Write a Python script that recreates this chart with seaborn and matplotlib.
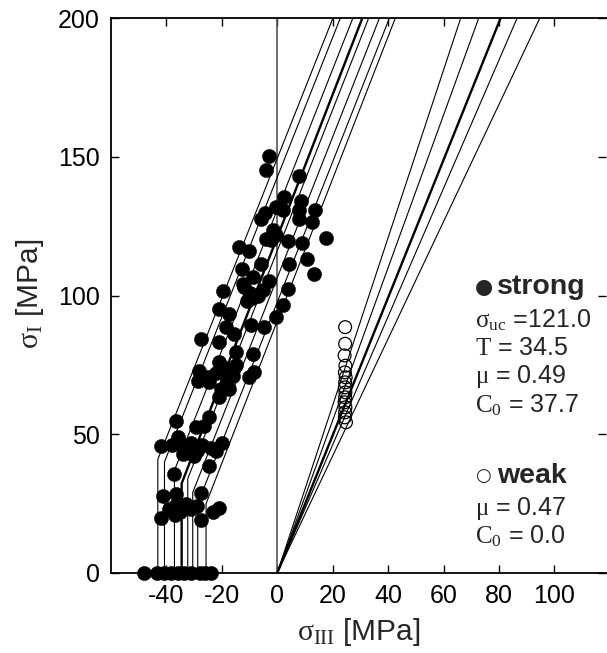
import numpy as np
import pandas as pd
import matplotlib
matplotlib.use("Agg")
import matplotlib.pyplot as plt
import seaborn as sns

# ---------------- data ----------------
# strong samples (sigma_III, sigma_I) in MPa
strong_s3 = [-48, -43.5, -41, -38.5, -36, -33.5, -31, -28, -26, -24,
             -41.9, -39, -37, -35, -33, -31, -29, -27.5, -23.3, -20.9, -37, -41.3, -36.5, -27.5, -37.1, -24.5,
             -41.9, -38, -35, -33, -31, -29, -27, -24, -22, -20, -34, -30, -36,
             -36.5, -29.3, -24.5, -26.3,
             -28.1, -28.7, -24.5, -20.9, -17.3, -20.3, -22, -19, -16, -21, -18, -15, -25.1, -8.3, -10.1, -8.9, -14.9,
             -27.5, -20.9, -15.5, -18.5, -17.3, -20.9, -9.5, -4.7, -0.5, 1.9,
             -19.7, -12, -10, -7, -9, -5, -8.9, -12.5, -2.9, 3.7, -11,
             -12.7, -5.9, 4.3, 13.1, 10.7, -13.9, -10.1, -4.1, -2.3, -1.7, -0.5, 3.7, 9.1, 17.5,
             -5.9, -4.3, -0.5, 1.9, 2.5, 8.5, 7.9, 7.9, 13.7, 12.7, 7.9, -3.9, -2.9]
strong_s1 = [0, 0, 0, 0, 0, 0, 0, 0, 0, 0,
             20, 23, 24, 22, 25, 23, 24, 19, 22, 23.6, 21, 27.8, 28.4, 29, 35.6, 38.6,
             45.8, 46, 47, 45, 47, 44, 46, 45, 44, 47, 43, 42, 49,
             54.9, 52.5, 56.1, 53.1,
             72.9, 69.3, 68.7, 63.3, 66.3, 66.3, 72, 74, 71, 76, 70, 75, 70.5, 72.3, 70.5, 79, 79.5,
             84.4, 83.1, 86.2, 88.6, 93.4, 95.2, 89.2, 88.6, 92.2, 96.4,
             101.6, 103, 101, 100, 99, 102, 106.6, 104.2, 105.2, 102.2, 98,
             109.6, 111.4, 111.4, 107.8, 113.2, 117.4, 115.9, 120.5, 119.9, 123.7, 121.7, 119.5, 118.9, 120.7,
             127.7, 129.7, 131.9, 130.7, 135.5, 134, 130.7, 127.7, 130.7, 126.5, 143, 145.4, 150.2]

# weak samples
weak_s3 = [24.5, 24.5, 24.3, 24.6, 24.4, 24.7, 24.5, 24.4, 24.6, 24.5, 24.3, 24.6, 24.5, 24.4, 24.8]
weak_s1 = [88.6, 82.6, 78.4, 74.7, 72.3, 70.5, 68.7, 66.9, 65.1, 63.3, 61.5, 59.7, 57.9, 56.1, 54.3]

# strong failure envelopes: tension cut-off T, intercept sigma_uc, slope q
strong_T = [43.1, 40.7, 37.1, 34.5, 32.3, 30.5, 28.7, 25.7]
strong_A = [149.4, 142.6, 130.9, 121.0, 116.1, 106.4, 97.6, 90.8]
strong_q = [2.516, 2.52, 2.531, 2.5715, 2.542, 2.537, 2.529, 2.562]
strong_best = 3
# weak envelopes through the origin: slope q
weak_q = [3.02, 2.75, 2.4804, 2.31, 2.11]
weak_best = 2

strong_text = [r"$\mathrm{σ}_{\mathrm{uc}}$ =121.0", r"$\mathrm{T}$ = 34.5",
               r"$\mathrm{μ}$ = 0.49", r"$\mathrm{C}_{\mathrm{0}}$ = 37.7"]
weak_text = [r"$\mathrm{μ}$ = 0.47", r"$\mathrm{C}_{\mathrm{0}}$ = 0.0"]

xticks = [-40, -20, 0, 20, 40, 60, 80, 100]
yticks = [0, 50, 100, 150, 200]
xlim = (-60, 118.5)
ylim = (0, 200)

# ---------------- styling ----------------
sns.set_style("ticks")
plt.rcParams["font.family"] = ["Liberation Sans", "DejaVu Sans"]
plt.rcParams["axes.unicode_minus"] = False
plt.rcParams["mathtext.fontset"] = "custom"
plt.rcParams["mathtext.rm"] = "Liberation Serif"
plt.rcParams["mathtext.it"] = "Liberation Serif:italic"
plt.rcParams["mathtext.bf"] = "Liberation Serif:bold"

W, H = 607, 653
fig = plt.figure(figsize=(W / 100, H / 100), dpi=100)
ax = fig.add_axes([111 / W, (H - 573) / H, (605.6 - 111) / W, (573 - 18) / H])

# vertical line at sigma_III = 0
ax.axvline(0, color="#555555", lw=1.2, zorder=1)

# strong envelopes
for i, (T, A, q) in enumerate(zip(strong_T, strong_A, strong_q)):
    lw = 1.7 if i == strong_best else 0.8
    s3 = np.array([-T, -T, xlim[1]])
    s1 = np.array([0, A - q * T, A + q * xlim[1]])
    ax.plot(s3, s1, color="black", lw=lw, zorder=2, solid_joinstyle="round")

# weak envelopes
for i, q in enumerate(weak_q):
    lw = 1.7 if i == weak_best else 0.8
    s3 = np.array([0, xlim[1]])
    ax.plot(s3, q * s3, color="black", lw=lw, zorder=2)

df_s = pd.DataFrame({"s3": strong_s3, "s1": strong_s1})
df_w = pd.DataFrame({"s3": weak_s3, "s1": weak_s1})
sns.scatterplot(data=df_s, x="s3", y="s1", ax=ax, s=105, color="black",
                edgecolor="black", linewidth=0.3, zorder=5, clip_on=False)
sns.scatterplot(data=df_w, x="s3", y="s1", ax=ax, s=85, facecolor="none",
                edgecolor="black", linewidth=0.9, zorder=4, clip_on=False)

ax.set_xlim(*xlim)
ax.set_ylim(*ylim)
ax.set_xticks(xticks)
ax.set_yticks(yticks)
ax.set_xlabel("")
ax.set_ylabel("")
ax.tick_params(direction="in", length=6, width=1, labelsize=18, pad=8,
               top=True, right=True, colors="black")
for side in ["left", "top", "bottom"]:
    ax.spines[side].set_linewidth(1.3)
    ax.spines[side].set_color("black")
ax.spines["right"].set_visible(False)

fig.text(30 / W, 1 - 294 / H, r"$\mathrm{σ}_{\mathrm{I}}$ [MPa]", rotation=90,
         ha="center", va="center", fontsize=21.5)
fig.text(359 / W, 1 - 632 / H, r"$\mathrm{σ}_{\mathrm{III}}$ [MPa]",
         ha="center", va="center", fontsize=21.5)

# annotation block
x0 = 475 / W
fig.text(x0, 1 - 287 / H, "●", ha="left", va="center", fontsize=15,
         family=["DejaVu Sans"])
fig.text(497 / W, 1 - 287 / H, "strong", ha="left", va="center", fontsize=20.5,
         fontweight="bold")
for k, t in enumerate(strong_text):
    fig.text(x0, 1 - (320 + 28.5 * k) / H, t, ha="left", va="center", fontsize=18)
fig.text(x0, 1 - 476 / H, "○", ha="left", va="center", fontsize=13,
         family=["DejaVu Sans"])
fig.text(497 / W, 1 - 476 / H, "weak", ha="left", va="center", fontsize=20.5,
         fontweight="bold")
for k, t in enumerate(weak_text):
    fig.text(x0, 1 - (508 + 28.5 * k) / H, t, ha="left", va="center", fontsize=18)

fig.savefig("out.png", dpi=100)
